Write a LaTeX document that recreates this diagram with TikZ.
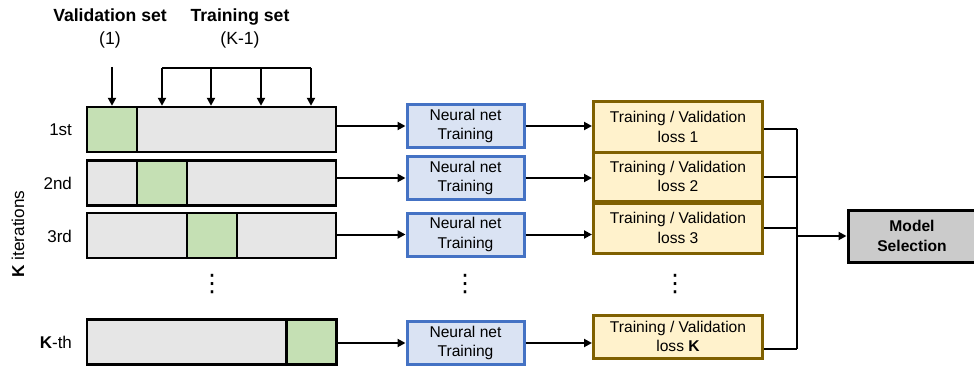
\documentclass[tikz,border=0pt]{standalone}
\usepackage{fontspec}
\setmainfont{Liberation Sans}
\newfontfamily\symfont{DejaVu Sans}
\usetikzlibrary{arrows.meta}

\definecolor{valgreen}{HTML}{C5E0B4}
\definecolor{traingrey}{HTML}{E6E6E6}
\definecolor{nnblue}{HTML}{4472C4}
\definecolor{nnfill}{HTML}{DAE3F3}
\definecolor{lossgold}{HTML}{7F6000}
\definecolor{lossfill}{HTML}{FFF2CC}
\definecolor{modelgrey}{HTML}{CBCBCB}

\tikzset{
	txt/.style={font=\fontsize{7.8}{9.8}\selectfont, align=center},
	rowlabel/.style={font=\fontsize{8.5}{10}\selectfont, anchor=east},
	foldrow/.style={draw, line width=1.2pt, fill=traingrey, minimum width=124.5pt, minimum height=22.5pt, inner sep=0pt},
	valpart/.style={draw, line width=1.2pt, fill=valgreen, minimum width=25pt, minimum height=22.5pt, inner sep=0pt},
	nnbox/.style={txt, draw=nnblue, line width=1.5pt, fill=nnfill, minimum width=58.5pt, minimum height=21.5pt, inner sep=0pt},
	lossbox/.style={txt, draw=lossgold, line width=1.5pt, fill=lossfill, minimum width=84.5pt, inner sep=0pt},
	dots/.style={font=\symfont\fontsize{12}{12}\selectfont, inner sep=0pt},
	link/.style={line width=1pt},
	>={Triangle[length=4pt,width=4pt]}
}

\begin{document}
\begin{tikzpicture}[x=0.5pt,y=-0.5pt]
			\useasboundingbox (0,0) rectangle (974,369);

			% headings
			\node[font=\fontsize{8.8}{11.5}\selectfont, align=center] (valtitle) at (110,28) {\textbf{Validation set}\\(1)};
			\node[font=\fontsize{8.8}{11.5}\selectfont, align=center] (trtitle) at (240,28) {\textbf{Training set}\\(K-1)};
			\node[font=\fontsize{8.6}{10}\selectfont, rotate=90] (kiter) at (18,234) {\textbf{K} iterations};

			% folds
			\node[foldrow] (r1) at (211.5,129.5) {};
			\node[foldrow] (r2) at (211.5,183) {};
			\node[foldrow] (r3) at (211.5,235.5) {};
			\node[foldrow] (rk) at (211.5,342) {};
			\node[valpart] (v1) at (112,129.5) {};
			\node[valpart] (v2) at (162,183) {};
			\node[valpart] (v3) at (212,235.5) {};
			\node[valpart] (vk) at (311.5,342) {};
			\node[rowlabel] (l1) at (79,130) {1st};
			\node[rowlabel] (l2) at (79,183) {2nd};
			\node[rowlabel] (l3) at (79,236) {3rd};
			\node[rowlabel] (lk) at (79,342) {\textbf{K}-th};
			\node[dots] (d1) at (212,284) {⋮};

			% neural nets
			\node[nnbox] (nn1) at (465.5,126) {Neural net\\Training};
			\node[nnbox] (nn2) at (465.5,178) {Neural net\\Training};
			\node[nnbox] (nn3) at (465.5,234.5) {Neural net\\Training};
			\node[nnbox] (nnk) at (465.5,343) {Neural net\\Training};
			\node[dots] (d2) at (465,284) {⋮};

			% losses
			\node[lossbox, minimum height=25pt] (loss1) at (678,127) {Training / Validation\\loss 1};
			\node[lossbox, minimum height=24.5pt] (loss2) at (678,176.5) {Training / Validation\\loss 2};
			\node[lossbox, minimum height=25pt] (loss3) at (678,228) {Training / Validation\\loss 3};
			\node[lossbox, minimum height=21.5pt] (lossk) at (678,336.5) {Training / Validation\\loss \textbf{K}};
			\node[dots] (d3) at (675,284) {⋮};

			\node[txt, draw, line width=1.5pt, fill=modelgrey, minimum width=64pt, minimum height=26pt, inner sep=0pt, font=\fontsize{7.8}{9.8}\selectfont\bfseries] (model) at (912,236) {Model\\Selection};

			% split arrows
			\coordinate (vtop) at (112,67);
			\coordinate (t1) at (162,68);
			\coordinate (t2) at (211,68);
			\coordinate (t3) at (261,68);
			\coordinate (t4) at (311,68);
			\draw[link,->] (vtop) -- (v1);
			\draw[link] (t1) -- (t4);
			\draw[link,->] (t1) -- (t1 |- r1.north);
			\draw[link,->] (t2) -- (t2 |- r1.north);
			\draw[link,->] (t3) -- (t3 |- r1.north);
			\draw[link,->] (t4) -- (t4 |- r1.north);

			% rows
			\draw[link,->] (r1.east |- nn1) -- (nn1);
			\draw[link,->] (r2.east |- nn2) -- (nn2);
			\draw[link,->] (r3.east |- nn3) -- (nn3);
			\draw[link,->] (rk.east |- nnk) -- (nnk);
			\draw[link,->] (nn1) -- (nn1 -| loss1.west);
			\draw[link,->] (nn2) -- (nn2 -| loss2.west);
			\draw[link,->] (nn3) -- (nn3 -| loss3.west);
			\draw[link,->] (nnk) -- (nnk -| lossk.west);

			% collect
			\coordinate (top) at (797,129);
			\coordinate (bot) at (797,349);
			\draw[link] (loss1.east |- top) -- (top);
			\draw[link] (loss2.east) -- (loss2.east -| top);
			\draw[link] (loss3.east) -- (loss3.east -| top);
			\draw[link] (lossk.east |- bot) -- (bot);
			\draw[link] (top) -- (bot);
			\draw[link,->] (top |- model) -- (model);
		\end{tikzpicture}
\end{document}
